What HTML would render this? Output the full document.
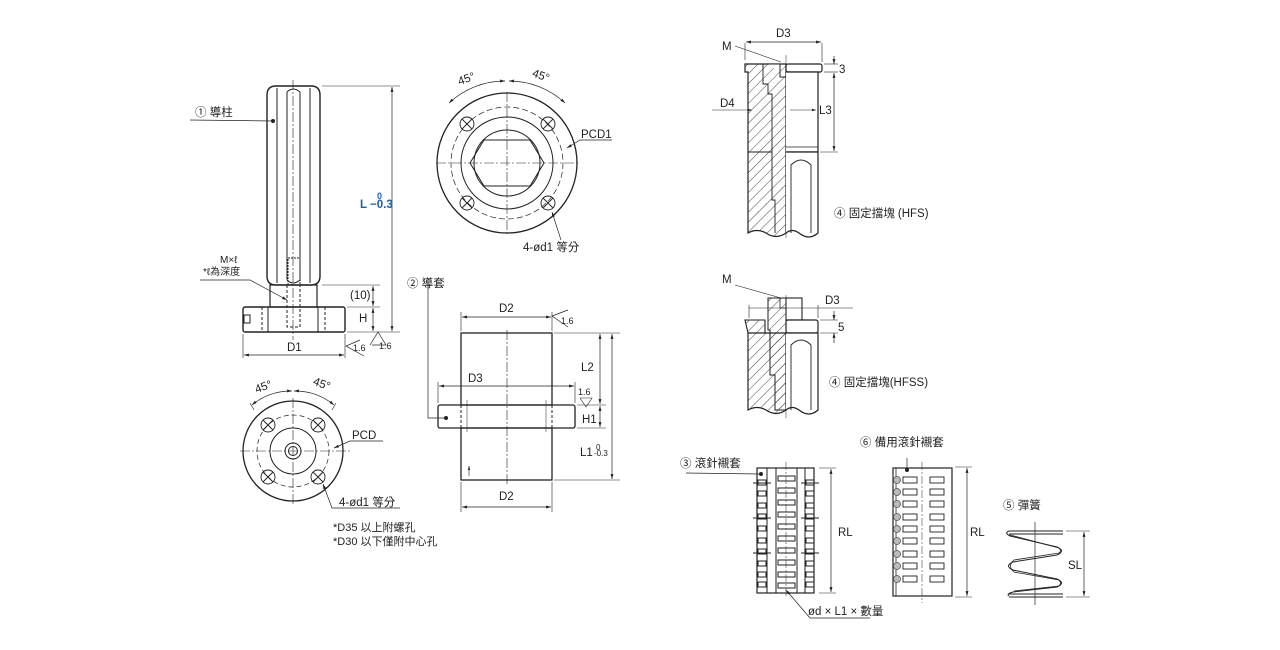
<!DOCTYPE html>
<html><head><meta charset="utf-8"><style>
html,body{margin:0;padding:0;background:#fff;width:1280px;height:650px;overflow:hidden}
svg{display:block}
text{font-family:"Liberation Sans","Noto Sans CJK TC",sans-serif;fill:#222}
</style></head><body>
<svg width="1280" height="650" viewBox="0 0 1280 650" xmlns="http://www.w3.org/2000/svg">
<defs>
<pattern id="h" width="7" height="7" patternUnits="userSpaceOnUse" patternTransform="rotate(45)"><line x1="0" y1="0" x2="0" y2="7" stroke="#333" stroke-width="0.9"/></pattern>
<marker id="a" viewBox="0 0 10 10" refX="10" refY="5" markerWidth="7" markerHeight="7" orient="auto-start-reverse"><path d="M0,2 L10,5 L0,8 z" fill="#222"/></marker>
</defs>
<g fill="none" stroke="#222" stroke-width="1">

<!-- ===== 1 Guide post ===== -->
<path d="M267,95 Q267,86 276,86 L311,86 Q320,86 320,95 L320,276 Q320,285 311,285 L276,285 Q267,285 267,276 Z" stroke-width="1.4"/>
<line x1="277" y1="88" x2="277" y2="283"/><line x1="287" y1="92" x2="287" y2="280"/><line x1="300" y1="92" x2="300" y2="280"/><line x1="310" y1="88" x2="310" y2="283"/>
<path d="M287,92 Q293,86 300,92" /><path d="M287,280 Q293,286 300,280"/>
<rect x="288" y="258" width="12" height="27" stroke-dasharray="2,1"/>
<rect x="270" y="285" width="47" height="22" stroke-width="1.2"/>
<rect x="243" y="307" width="102" height="25" rx="2" stroke-width="1.4"/>
<line x1="262" y1="307" x2="262" y2="332" stroke-dasharray="3,2"/><line x1="268" y1="307" x2="268" y2="332"/>
<line x1="318" y1="307" x2="318" y2="332"/><line x1="325" y1="307" x2="325" y2="332" stroke-dasharray="3,2"/>
<path d="M287,285 L287,327 L300,327 L300,285" stroke-dasharray="3,2"/>
<rect x="244" y="315" width="6" height="8"/>
<line x1="293" y1="80" x2="293" y2="340" stroke-width="0.6" stroke-dasharray="10,2,2,2"/>
<line x1="190" y1="120" x2="273" y2="121" stroke-width="0.7"/><circle cx="273" cy="121" r="1.5" fill="#222"/>
<polyline points="200,280 250,280 287,300" stroke-width="0.7" marker-end="url(#a)"/>
<line x1="322" y1="86" x2="400" y2="86" stroke-width="0.6"/>
<line x1="322" y1="285" x2="380" y2="285" stroke-width="0.6"/>
<line x1="347" y1="307" x2="380" y2="307" stroke-width="0.6"/>
<line x1="347" y1="332" x2="400" y2="332" stroke-width="0.6"/>
<line x1="392" y1="87" x2="392" y2="331" stroke-width="0.7" marker-start="url(#a)" marker-end="url(#a)"/>
<line x1="373" y1="286" x2="373" y2="306" stroke-width="0.7" marker-start="url(#a)" marker-end="url(#a)"/>
<line x1="373" y1="308" x2="373" y2="331" stroke-width="0.7" marker-start="url(#a)" marker-end="url(#a)"/>
<line x1="243" y1="334" x2="243" y2="358" stroke-width="0.6"/><line x1="345" y1="334" x2="345" y2="358" stroke-width="0.6"/>
<line x1="244" y1="355" x2="344" y2="355" stroke-width="0.7" marker-start="url(#a)" marker-end="url(#a)"/>
<polyline points="360,340 346,346 364,356" stroke-width="0.7"/>
<polyline points="370,345 378,332 386,345 372,345" stroke-width="0.7"/>

<!-- ===== 1 bottom view ===== -->
<circle cx="293" cy="451" r="50" stroke-width="1.3"/>
<circle cx="293" cy="451" r="36" stroke-dasharray="5,3" stroke-width="0.7"/>
<circle cx="293" cy="451" r="23"/>
<circle cx="293" cy="451" r="8"/><circle cx="293" cy="451" r="4.5"/>
<line x1="240" y1="451" x2="350" y2="451" stroke-width="0.6" stroke-dasharray="10,2,2,2"/>
<line x1="293" y1="398" x2="293" y2="504" stroke-width="0.6" stroke-dasharray="10,2,2,2"/>
<g stroke-width="0.9">
<circle cx="268" cy="425" r="7"/><path d="M263,420 l10,10 M273,420 l-10,10"/>
<circle cx="318" cy="425" r="7"/><path d="M313,420 l10,10 M323,420 l-10,10"/>
<circle cx="268" cy="477" r="7"/><path d="M263,472 l10,10 M273,472 l-10,10"/>
<circle cx="318" cy="477" r="7"/><path d="M313,472 l10,10 M323,472 l-10,10"/>
</g>
<path d="M252,405 A60,60 0 0 1 292,391" stroke-width="0.7" marker-start="url(#a)" marker-end="url(#a)"/>
<path d="M294,391 A60,60 0 0 1 334,405" stroke-width="0.7" marker-start="url(#a)" marker-end="url(#a)"/>
<line x1="250" y1="403" x2="254" y2="410" stroke-width="0.6"/><line x1="336" y1="403" x2="332" y2="410" stroke-width="0.6"/>
<polyline points="383,441 350,441 334,448" stroke-width="0.7" marker-end="url(#a)"/>
<polyline points="400,508 332,508 323,484" stroke-width="0.7" marker-end="url(#a)"/>

<!-- ===== flange top view ===== -->
<circle cx="507" cy="163" r="70" stroke-width="1.3"/>
<circle cx="507" cy="163" r="56" stroke-dasharray="6,3" stroke-width="0.7"/>
<circle cx="507" cy="163" r="46"/>
<circle cx="507" cy="163" r="33"/>
<path d="M484,140 L530,140 L544,163 L530,186 L484,186 L470,163 Z" stroke-width="1"/>
<line x1="436" y1="163" x2="580" y2="163" stroke-width="0.6" stroke-dasharray="10,2,2,2"/>
<line x1="507" y1="92" x2="507" y2="236" stroke-width="0.6" stroke-dasharray="10,2,2,2"/>
<g stroke-width="0.9">
<circle cx="467" cy="124" r="7"/><path d="M462,119 l10,10 M472,119 l-10,10"/>
<circle cx="548" cy="124" r="7"/><path d="M543,119 l10,10 M553,119 l-10,10"/>
<circle cx="467" cy="203" r="7"/><path d="M462,198 l10,10 M472,198 l-10,10"/>
<circle cx="548" cy="203" r="7"/><path d="M543,198 l10,10 M553,198 l-10,10"/>
</g>
<path d="M449,103 A82,82 0 0 1 505,81" stroke-width="0.7" marker-start="url(#a)" marker-end="url(#a)"/>
<path d="M509,81 A82,82 0 0 1 565,103" stroke-width="0.7" marker-start="url(#a)" marker-end="url(#a)"/>
<polyline points="612,140 580,140 567,148" stroke-width="0.7" marker-end="url(#a)"/>
<line x1="561" y1="240" x2="552" y2="212" stroke-width="0.7" marker-end="url(#a)"/>

<!-- ===== 2 guide bush ===== -->
<rect x="461" y="333" width="91" height="72" stroke-width="1.3"/>
<rect x="438" y="405" width="137" height="23" rx="2" stroke-width="1.3"/>
<rect x="461" y="428" width="91" height="52" stroke-width="1.3"/>
<line x1="461" y1="405" x2="461" y2="428" stroke-dasharray="3,2"/><line x1="552" y1="405" x2="552" y2="428" stroke-dasharray="3,2"/>
<line x1="467" y1="400" x2="467" y2="432" stroke-width="0.5"/><line x1="546" y1="400" x2="546" y2="432" stroke-width="0.5"/>
<line x1="507" y1="330" x2="507" y2="484" stroke-width="0.6" stroke-dasharray="10,2,2,2"/>
<polyline points="428,282 428,418 445,418" stroke-width="0.7"/><circle cx="446" cy="418" r="1.5" fill="#222"/>
<line x1="461" y1="312" x2="461" y2="331" stroke-width="0.6"/><line x1="552" y1="312" x2="552" y2="331" stroke-width="0.6"/>
<line x1="462" y1="317" x2="551" y2="317" stroke-width="0.7" marker-start="url(#a)" marker-end="url(#a)"/>
<polyline points="568,310 552,316 568,327" stroke-width="0.7"/>
<line x1="438" y1="382" x2="438" y2="403" stroke-width="0.6"/><line x1="575" y1="382" x2="575" y2="403" stroke-width="0.6"/>
<line x1="439" y1="386" x2="574" y2="386" stroke-width="0.7" marker-start="url(#a)" marker-end="url(#a)"/>
<line x1="461" y1="482" x2="461" y2="512" stroke-width="0.6"/><line x1="552" y1="482" x2="552" y2="512" stroke-width="0.6"/>
<line x1="462" y1="507" x2="551" y2="507" stroke-width="0.7" marker-start="url(#a)" marker-end="url(#a)"/>
<line x1="554" y1="333" x2="620" y2="333" stroke-width="0.6"/>
<line x1="577" y1="405" x2="606" y2="405" stroke-width="0.6"/>
<line x1="577" y1="428" x2="606" y2="428" stroke-width="0.6"/>
<line x1="554" y1="480" x2="620" y2="480" stroke-width="0.6"/>
<line x1="600" y1="334" x2="600" y2="404" stroke-width="0.7" marker-start="url(#a)" marker-end="url(#a)"/>
<line x1="600" y1="406" x2="600" y2="427" stroke-width="0.7" marker-start="url(#a)" marker-end="url(#a)"/>
<line x1="612" y1="334" x2="612" y2="479" stroke-width="0.7" marker-start="url(#a)" marker-end="url(#a)"/>
<polyline points="580,398 586,407 592,398 580,398 M592,398 L597,388" stroke-width="0.6"/>
<line x1="469" y1="466" x2="469" y2="476" stroke-width="0.6" marker-start="url(#a)"/>

<!-- ===== 4 HFS ===== -->
<line x1="786" y1="55" x2="786" y2="238" stroke-width="0.5"/>
<path d="M745,64 L786,64 L786,233 Q776,240 766,233 Q757,228 748,233 L748,72 L745,72 Z" fill="url(#h)" stroke-width="1.2"/>
<path d="M763,64 L763,84 L768,84 L768,94 L772,94 L772,152 L772,200 L775,200 L775,233" stroke-width="0.9"/>
<path d="M768,64 L780,64 L780,77 L786,77" fill="#fff"/>
<rect x="786" y="64" width="36" height="8" rx="2" stroke-width="1.2" fill="#fff"/>
<path d="M786,72 L818,72 L818,152 L786,152" stroke-width="1.2" fill="#fff"/>
<path d="M786,152 L818,152 L818,233 Q809,241 799,233 Q792,228 786,233" stroke-width="1.2" fill="#fff"/>
<path d="M786,147 L818,147" stroke-width="0.7"/>
<path d="M791,233 L791,165 Q801,155 811,165 L811,233" stroke-width="0.9"/>
<line x1="748" y1="152" x2="772" y2="152" stroke-width="0.9"/>
<line x1="745" y1="43" x2="745" y2="60" stroke-width="0.6"/><line x1="822" y1="43" x2="822" y2="62" stroke-width="0.6"/>
<line x1="746" y1="42" x2="821" y2="42" stroke-width="0.7" marker-start="url(#a)" marker-end="url(#a)"/>
<line x1="735" y1="46" x2="781" y2="62" stroke-width="0.6"/>
<line x1="824" y1="64" x2="838" y2="64" stroke-width="0.6"/><line x1="824" y1="72" x2="838" y2="72" stroke-width="0.6"/>
<line x1="820" y1="152" x2="838" y2="152" stroke-width="0.6"/>
<line x1="834" y1="56" x2="834" y2="64" stroke-width="0.7" marker-end="url(#a)"/>
<line x1="834" y1="73" x2="834" y2="151" stroke-width="0.7" marker-start="url(#a)" marker-end="url(#a)"/>
<line x1="712" y1="110" x2="752" y2="110" stroke-width="0.6" marker-end="url(#a)"/>
<line x1="790" y1="110" x2="816" y2="110" stroke-width="0.6" marker-end="url(#a)"/>

<!-- ===== 4 HFSS ===== -->
<line x1="786" y1="295" x2="786" y2="418" stroke-width="0.5"/>
<path d="M745,320 L765,320 L765,333 L748,333 Z" fill="url(#h)" stroke-width="1.1"/>
<path d="M748,333 L786,333 L786,410 Q776,417 766,410 Q757,405 748,410 Z" fill="url(#h)" stroke-width="1.2"/>
<path d="M768,298 L786,298 L786,410 L775,410 L775,375 L770,375 L770,330 L768,330 Z" fill="url(#h)" stroke-width="1"/>
<path d="M775,298 L780,298 L780,308 L786,308" stroke-width="0.8"/>
<rect x="786" y="298" width="16" height="22" stroke-width="1.1" fill="#fff"/>
<rect x="786" y="320" width="32" height="13" rx="2" stroke-width="1.2" fill="#fff"/>
<path d="M786,333 L818,333 L818,410 Q809,418 799,410 Q792,405 786,410" stroke-width="1.2" fill="#fff"/>
<path d="M791,410 L791,345 Q801,335 811,345 L811,410" stroke-width="0.9"/>
<line x1="749" y1="308" x2="853" y2="308" stroke-width="0.6"/>
<line x1="749" y1="305" x2="749" y2="318" stroke-width="0.6"/><line x1="818" y1="305" x2="818" y2="318" stroke-width="0.6"/>
<line x1="735" y1="285" x2="781" y2="298" stroke-width="0.6"/>
<line x1="820" y1="320" x2="838" y2="320" stroke-width="0.6"/><line x1="820" y1="333" x2="838" y2="333" stroke-width="0.6"/>
<line x1="834" y1="311" x2="834" y2="320" stroke-width="0.7" marker-end="url(#a)"/>
<line x1="834" y1="343" x2="834" y2="333" stroke-width="0.7" marker-end="url(#a)"/>

<!-- ===== 3 roller cage ===== -->
<rect x="757" y="468" width="57" height="125" stroke-width="1.2"/>
<line x1="767" y1="468" x2="767" y2="593"/><line x1="776" y1="468" x2="776" y2="593"/>
<line x1="797" y1="468" x2="797" y2="593"/><line x1="805" y1="468" x2="805" y2="593"/>
<line x1="786" y1="462" x2="786" y2="598" stroke-width="0.5" stroke-dasharray="8,2,2,2"/>
<g stroke-width="1">
<rect x="758" y="480" width="8" height="5"/><rect x="758" y="491" width="8" height="5"/><rect x="758" y="503" width="8" height="5"/><rect x="758" y="514" width="8" height="5"/><rect x="758" y="526" width="8" height="5"/><rect x="758" y="538" width="8" height="5"/><rect x="758" y="549" width="8" height="5"/><rect x="758" y="561" width="8" height="5"/><rect x="758" y="572" width="8" height="5"/><rect x="758" y="582" width="8" height="5"/>
<rect x="806" y="480" width="8" height="5"/><rect x="806" y="491" width="8" height="5"/><rect x="806" y="503" width="8" height="5"/><rect x="806" y="514" width="8" height="5"/><rect x="806" y="526" width="8" height="5"/><rect x="806" y="538" width="8" height="5"/><rect x="806" y="549" width="8" height="5"/><rect x="806" y="561" width="8" height="5"/><rect x="806" y="572" width="8" height="5"/><rect x="806" y="582" width="8" height="5"/>
<rect x="778" y="476" width="17" height="5"/><rect x="778" y="488" width="17" height="5"/><rect x="778" y="500" width="17" height="5"/><rect x="778" y="512" width="17" height="5"/><rect x="778" y="524" width="17" height="5"/><rect x="778" y="536" width="17" height="5"/><rect x="778" y="548" width="17" height="5"/><rect x="778" y="560" width="17" height="5"/><rect x="778" y="572" width="17" height="5"/><rect x="778" y="583" width="17" height="5"/>
</g>
<line x1="753" y1="483" x2="771" y2="483"/><line x1="753" y1="518" x2="771" y2="518"/><line x1="753" y1="553" x2="771" y2="553"/>
<line x1="801" y1="483" x2="819" y2="483"/><line x1="801" y1="518" x2="819" y2="518"/><line x1="801" y1="553" x2="819" y2="553"/>
<line x1="686" y1="473" x2="760" y2="474" stroke-width="0.7"/><circle cx="761" cy="474" r="1.5" fill="#222"/>
<line x1="819" y1="468" x2="836" y2="468" stroke-width="0.6"/><line x1="819" y1="593" x2="836" y2="593" stroke-width="0.6"/>
<line x1="831" y1="469" x2="831" y2="592" stroke-width="0.7" marker-start="url(#a)" marker-end="url(#a)"/>
<polyline points="870,618 810,618 786,590" stroke-width="0.7" marker-end="url(#a)"/>

<!-- ===== 6 spare cage ===== -->
<rect x="893" y="468" width="59" height="128" stroke-width="1.2"/>
<line x1="896" y1="468" x2="896" y2="596" stroke-width="0.8"/>
<line x1="922" y1="462" x2="922" y2="603" stroke-width="0.5" stroke-dasharray="8,2,2,2"/>
<polyline points="907,458 907,470" stroke-width="0.7"/><circle cx="907" cy="470" r="1.5" fill="#222"/>
<g stroke-width="0.9">
<rect x="903" y="477" width="14" height="6"/><rect x="903" y="489" width="14" height="6"/><rect x="903" y="501" width="14" height="6"/><rect x="903" y="514" width="14" height="6"/><rect x="903" y="526" width="14" height="6"/><rect x="903" y="538" width="14" height="6"/><rect x="903" y="551" width="14" height="6"/><rect x="903" y="563" width="14" height="6"/><rect x="903" y="576" width="14" height="6"/>
<rect x="930" y="477" width="14" height="6"/><rect x="930" y="489" width="14" height="6"/><rect x="930" y="501" width="14" height="6"/><rect x="930" y="514" width="14" height="6"/><rect x="930" y="526" width="14" height="6"/><rect x="930" y="538" width="14" height="6"/><rect x="930" y="551" width="14" height="6"/><rect x="930" y="563" width="14" height="6"/><rect x="930" y="576" width="14" height="6"/>
</g>
<g fill="#bbb" stroke="#555" stroke-width="0.8">
<circle cx="897" cy="480" r="3.5"/><circle cx="897" cy="492" r="3.5"/><circle cx="897" cy="504" r="3.5"/><circle cx="897" cy="517" r="3.5"/><circle cx="897" cy="529" r="3.5"/><circle cx="897" cy="541" r="3.5"/><circle cx="897" cy="554" r="3.5"/><circle cx="897" cy="566" r="3.5"/><circle cx="897" cy="579" r="3.5"/>
</g>
<line x1="955" y1="467" x2="972" y2="467" stroke-width="0.6"/><line x1="955" y1="597" x2="972" y2="597" stroke-width="0.6"/>
<line x1="967" y1="468" x2="967" y2="596" stroke-width="0.7" marker-start="url(#a)" marker-end="url(#a)"/>

<!-- ===== 5 spring ===== -->
<line x1="1035" y1="522" x2="1035" y2="605" stroke-width="0.7"/>
<line x1="1009" y1="531" x2="1063" y2="531" stroke-width="1"/><line x1="1009" y1="534" x2="1063" y2="534" stroke-width="1"/>
<path d="M1009,531 Q1004,533 1010,536 L1057,547 Q1066,551 1057,555 L1013,562 Q1004,566 1013,570 L1057,579 Q1066,583 1057,587 L1013,592 Q1006,594 1009,596" stroke-width="1"/>
<path d="M1010,536 Q1008,534 1014,536 L1059,548 Q1062,551 1059,553 L1014,560 Q1007,566 1014,572 L1059,580 Q1062,583 1059,586 L1014,591" stroke-width="0.8"/>
<line x1="1009" y1="594" x2="1063" y2="594" stroke-width="1"/><line x1="1009" y1="597" x2="1063" y2="597" stroke-width="1"/>
<line x1="1066" y1="531" x2="1090" y2="531" stroke-width="0.6"/><line x1="1066" y1="597" x2="1090" y2="597" stroke-width="0.6"/>
<line x1="1084" y1="532" x2="1084" y2="596" stroke-width="0.7" marker-start="url(#a)" marker-end="url(#a)"/>
</g>

<!-- ===== texts ===== -->
<g font-size="11.5">
<text x="195" y="116">① 導柱</text>
<text x="220" y="263" font-size="10">M×ℓ</text>
<text x="203" y="275" font-size="10">*ℓ為深度</text>
<text x="350" y="299">(10)</text>
<text x="359" y="322">H</text>
<text x="287" y="351">D1</text>
<text x="353" y="351" font-size="9">1.6</text>
<text x="379" y="349" font-size="9">1.6</text>
<text x="377" y="199" font-size="9" font-weight="bold" style="fill:#1a5fa8">0</text>
<text x="360" y="208" font-weight="bold" style="fill:#1a5fa8">L −0.3</text>
<text x="407" y="287">② 導套</text>
<text x="458" y="83" transform="rotate(-20 465 80)">45°</text>
<text x="532" y="79" transform="rotate(20 540 76)">45°</text>
<text x="581" y="138">PCD1</text>
<text x="523" y="251">4-ød1 等分</text>
<text x="255" y="391" transform="rotate(-20 262 388)">45°</text>
<text x="313" y="387" transform="rotate(20 320 384)">45°</text>
<text x="352" y="439">PCD</text>
<text x="339" y="506">4-ød1 等分</text>
<text x="333" y="531" font-size="11">*D35 以上附螺孔</text>
<text x="333" y="545" font-size="11">*D30 以下僅附中心孔</text>
<text x="499" y="312">D2</text>
<text x="561" y="324" font-size="9">1.6</text>
<text x="468" y="382">D3</text>
<text x="581" y="371">L2</text>
<text x="578" y="395" font-size="9">1.6</text>
<text x="582" y="423">H1</text>
<text x="596" y="450" font-size="8">0</text>
<text x="580" y="456">L1</text><text x="594" y="456" font-size="8">-0.3</text>
<text x="499" y="500">D2</text>
<text x="776" y="37">D3</text>
<text x="722" y="50">M</text>
<text x="839" y="73">3</text>
<text x="720" y="107">D4</text>
<text x="819" y="114">L3</text>
<text x="834" y="217">④ 固定擋塊 (HFS)</text>
<text x="722" y="283">M</text>
<text x="825" y="304">D3</text>
<text x="838" y="331">5</text>
<text x="829" y="386">④ 固定擋塊(HFSS)</text>
<text x="680" y="467">③ 滾針襯套</text>
<text x="860" y="446">⑥ 備用滾針襯套</text>
<text x="1003" y="509">⑤ 彈簧</text>
<text x="838" y="536">RL</text>
<text x="970" y="536">RL</text>
<text x="1068" y="569">SL</text>
<text x="808" y="615">ød × L1 × 數量</text>
</g>
</svg>
</body></html>
